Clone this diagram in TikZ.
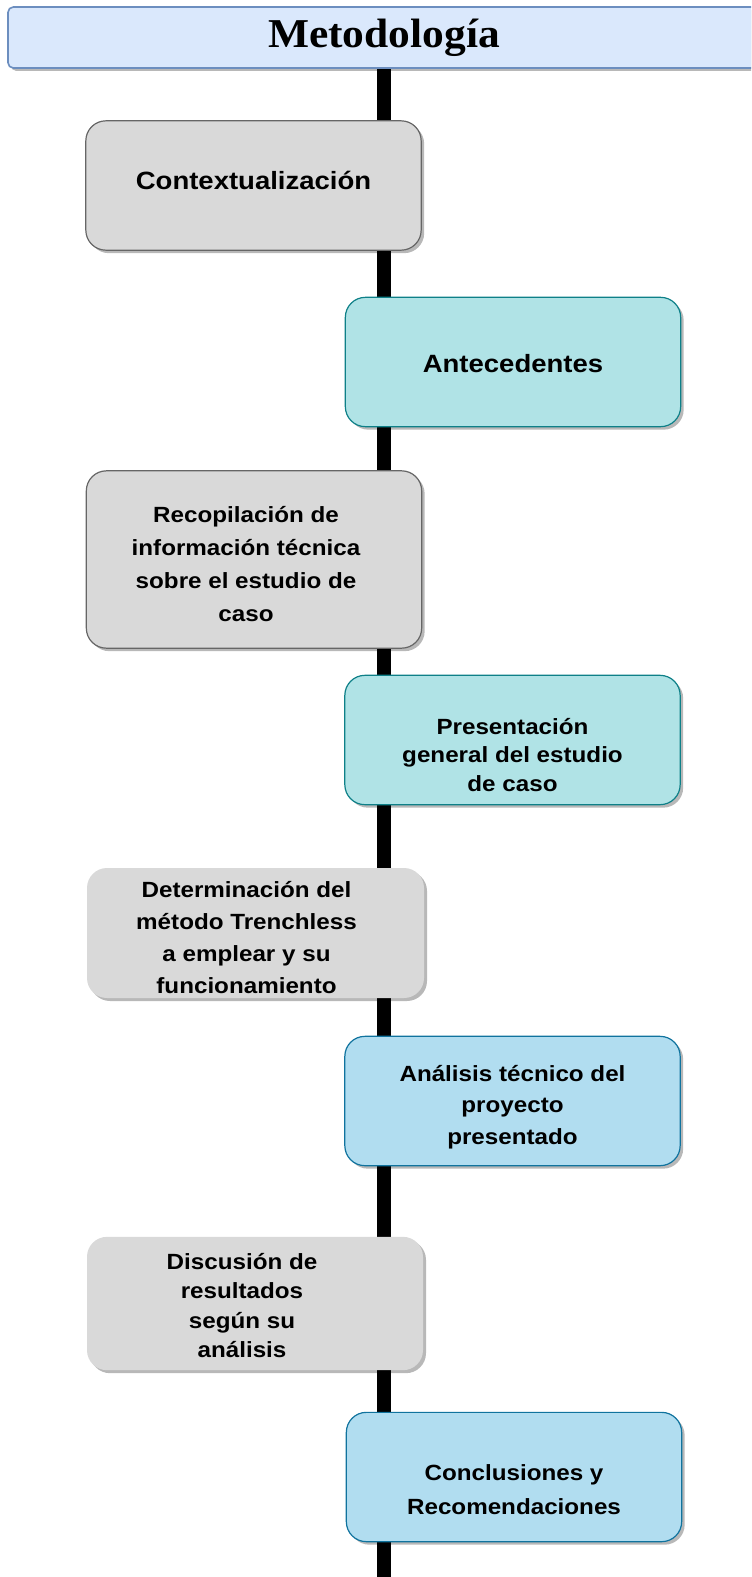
\documentclass[tikz,border=0pt]{standalone}
\usepackage{fontspec}
\newfontfamily\boxfont[FakeStretch=1.1]{Liberation Sans}
\newfontfamily\titlefont[FakeStretch=1.06]{Liberation Serif}
\usetikzlibrary{shadows,backgrounds}
\definecolor{titlefill}{HTML}{DAE8FC}
\definecolor{titledraw}{HTML}{6C8EBF}
\definecolor{grayfill}{HTML}{D9D9D9}
\definecolor{graydraw}{HTML}{666666}
\definecolor{tealfill}{HTML}{B0E3E6}
\definecolor{tealdraw}{HTML}{0E8088}
\definecolor{bluefill}{HTML}{B1DDF0}
\definecolor{bluedraw}{HTML}{10739E}
% #1 = horizontal shift, #2 = vertical shift, #3 = text
\newcommand\placedtext[3]{\raisebox{#2}[\height][\depth]{\hspace*{#1}\parbox{240pt}{\centering #3}\hspace*{-#1}}}
\begin{document}
\begin{tikzpicture}[x=0.75pt,y=-0.75pt,
  shadowed/.style={drop shadow={shadow xshift=2.25pt,shadow yshift=-2.25pt,fill=black,opacity=0.28}},
  card/.style={shadowed, rounded corners=15pt, line width=0.9pt,
    minimum width=251.5pt, minimum height=97pt, inner sep=0pt,
    font=\boxfont\bfseries\fontsize{16.5pt}{23pt}\selectfont},
  lead/.style={font=\boxfont\bfseries\fontsize{16.5pt}{#1}\selectfont},
  bigtext/.style={font=\boxfont\bfseries\fontsize{18.75pt}{24pt}\selectfont},
  graycard/.style={card, fill=grayfill, draw=graydraw},
  plaincard/.style={card, fill=grayfill, draw=none},
  tealcard/.style={card, fill=tealfill, draw=tealdraw},
  bluecard/.style={card, fill=bluefill, draw=bluedraw},
  spine/.style={line width=10.5pt, black}]
\path[use as bounding box, clip] (0,0) rectangle (751,1577);

\node[shadowed, fill=titlefill, draw=titledraw, line width=1.2pt, rounded corners=4pt,
  minimum width=564pt, minimum height=45.75pt, inner sep=0pt,
  font=\titlefont\bfseries\fontsize{30.75pt}{34pt}\selectfont] (title) at (384,37.5) {Metodología};

\node[graycard, bigtext] (ctx) at (253.5,185.5) {\placedtext{0pt}{3.75pt}{Contextualización}};
\node[tealcard, bigtext] (ante) at (513,362) {\placedtext{0pt}{-1pt}{Antecedentes}};
\node[graycard, lead=24.75pt, minimum height=133pt] (reco) at (254,559.5)
  {\placedtext{-6pt}{-3.75pt}{Recopilación de\\información técnica\\sobre el estudio de\\caso}};
\node[tealcard, lead=21.4pt] (pres) at (512.5,740)
  {\placedtext{0pt}{-11.25pt}{Presentación\\general del estudio\\de caso}};
\node[plaincard, lead=24pt, minimum width=252.75pt, minimum height=97.5pt] (det) at (255.5,933)
  {\placedtext{-6.75pt}{-3.75pt}{Determinación del\\método Trenchless\\a emplear y su\\funcionamiento}};
\node[bluecard, lead=23.6pt] (anal) at (512.5,1101)
  {\placedtext{0pt}{-4.5pt}{Análisis técnico del\\proyecto\\presentado}};
\node[plaincard, lead=22pt, minimum width=252pt, minimum height=100pt] (disc) at (255,1303.5)
  {\placedtext{-9.75pt}{-1.5pt}{Discusión de\\resultados\\según su\\análisis}};
\node[bluecard, lead=25.5pt] (concl) at (514,1477)
  {\placedtext{0pt}{-9.75pt}{Conclusiones y\\Recomendaciones}};

\coordinate (bottom) at (384,1590);
\begin{pgfonlayer}{background}
  \draw[spine] (title.south) -- (title.south |- bottom);
\end{pgfonlayer}
\end{tikzpicture}
\end{document}
